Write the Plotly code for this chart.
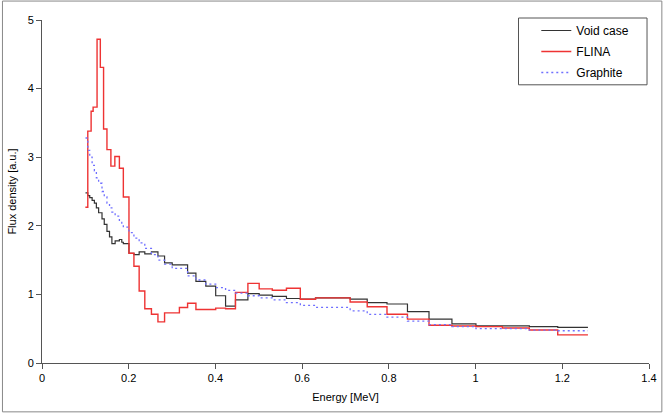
import plotly.graph_objects as go

# ---- data (bin lower edges in MeV, flux values) ----
flina_edges = [0.1000, 0.1056, 0.1133, 0.1179, 0.1270, 0.1345, 0.1420, 0.1498, 0.1589, 0.1680,
               0.1785, 0.1876, 0.2006, 0.2120, 0.2241, 0.2371, 0.2524, 0.2674, 0.2827, 0.3169,
               0.3358, 0.3550, 0.4006, 0.4234, 0.4462, 0.4749, 0.5009, 0.5312, 0.5638, 0.5958,
               0.6309, 0.7107, 0.7501, 0.7957, 0.8429, 0.8926, 0.9455, 1.0009, 1.0618, 1.1240,
               1.1895, 1.2592]
flina_vals = [2.27, 3.38, 3.67, 3.73, 4.72, 4.31, 3.41, 3.11, 2.87, 3.01,
              2.84, 2.42, 1.60, 1.41, 1.05, 0.79, 0.71, 0.60, 0.73, 0.81,
              0.87, 0.78, 0.80, 0.79, 1.03, 1.16, 1.08, 1.06, 1.09, 0.93,
              0.95, 0.89, 0.82, 0.71, 0.64, 0.55, 0.54, 0.53, 0.51, 0.48,
              0.41]

void_edges = [0.1003, 0.1056, 0.1101, 0.1156, 0.1208, 0.1254, 0.1306, 0.1384, 0.1436, 0.1498,
              0.1557, 0.1612, 0.1687, 0.1785, 0.1840, 0.1876, 0.2006, 0.2120, 0.2241, 0.2371,
              0.2524, 0.2674, 0.2827, 0.3003, 0.3358, 0.3550, 0.3778, 0.4006, 0.4234, 0.4462,
              0.4749, 0.5009, 0.5312, 0.5638, 0.5958, 0.6309, 0.7107, 0.7501, 0.7957, 0.8429,
              0.8926, 0.9455, 1.0009, 1.0618, 1.1240, 1.1895, 1.2592]
void_vals = [2.48, 2.44, 2.41, 2.37, 2.33, 2.26, 2.19, 2.10, 2.02, 1.92,
             1.84, 1.74, 1.78, 1.80, 1.76, 1.74, 1.60, 1.58, 1.62, 1.59,
             1.62, 1.56, 1.46, 1.43, 1.31, 1.19, 1.12, 0.98, 0.83, 0.92,
             1.01, 0.99, 0.97, 0.94, 0.93, 0.95, 0.93, 0.88, 0.86, 0.75,
             0.64, 0.57, 0.54, 0.54, 0.53, 0.52]

graphite_vals = [3.28, 3.10, 3.00, 2.88, 2.80, 2.70, 2.62, 2.50, 2.42, 2.33,
                 2.26, 2.20, 2.14, 2.06, 2.02, 1.98, 1.90, 1.82, 1.75, 1.67,
                 1.58, 1.50, 1.44, 1.38, 1.27, 1.21, 1.15, 1.10, 1.06, 1.02,
                 0.98, 0.95, 0.92, 0.88, 0.84, 0.81, 0.76, 0.71, 0.67, 0.61,
                 0.56, 0.53, 0.50, 0.50, 0.48, 0.47]

x_ticks = [0, 0.2, 0.4, 0.6, 0.8, 1.0, 1.2, 1.4]
x_labels = ["0", "0.2", "0.4", "0.6", "0.8", "1", "1.2", "1.4"]
y_ticks = [0, 1, 2, 3, 4, 5]


def steps(edges, vals):
    # hv step: each value held until the next edge, final edge closes the last bin
    return list(edges), list(vals) + [vals[-1]]


fig = go.Figure()
x, y = steps(void_edges, void_vals)
fig.add_trace(go.Scatter(x=x, y=y, mode="lines", line_shape="hv", name="Void case", legendgroup="a",
                         line=dict(color="#333333", width=1.2)))
x, y = steps(flina_edges, flina_vals)
fig.add_trace(go.Scatter(x=x, y=y, mode="lines", line_shape="hv", name="FLINA", legendgroup="b",
                         line=dict(color="#ee3333", width=1.4)))
x, y = steps(void_edges, graphite_vals)
fig.add_trace(go.Scatter(x=x, y=y, mode="lines", line_shape="hv", name="Graphite", legendgroup="c",
                         line=dict(color="#7070ff", width=1.3, dash="2px,3px")))

W, H = 669, 414
L, R, T, B = 41, 14, 20, 50
pw, ph = W - L - R, H - T - B


def px(xp):
    return (xp - L) / pw


def py(yp):
    return (H - B - yp) / ph


fig.update_layout(
    width=W, height=H,
    margin=dict(l=L, r=R, t=T, b=B, pad=0),
    paper_bgcolor="white", plot_bgcolor="white",
    font=dict(family="Liberation Sans, Arial, sans-serif", size=11, color="#000000"),
    showlegend=True,
    legend=dict(x=px(541), y=py(16), xanchor="left", yanchor="top",
                borderwidth=0, bgcolor="rgba(0,0,0,0)", font=dict(size=12), tracegroupgap=2),
    xaxis=dict(range=[0, 1.4], tickvals=x_ticks, ticktext=x_labels,
               showgrid=False, zeroline=False, showline=True, linecolor="#555555", linewidth=1,
               ticks="outside", ticklen=5, tickcolor="#555555",
               title=dict(text="Energy [MeV]", font=dict(size=11), standoff=10)),
    yaxis=dict(range=[0, 5], tickvals=y_ticks, showgrid=False, zeroline=False, showline=True,
               linecolor="#555555", linewidth=1, ticks="outside", ticklen=5, tickcolor="#555555",
               title=dict(text="Flux density [a.u.]", font=dict(size=11), standoff=8)),
    shapes=[
        dict(type="rect", xref="paper", yref="paper",
             x0=px(1), x1=px(W - 1), y0=py(H - 1), y1=py(1),
             line=dict(color="#888888", width=1), fillcolor="rgba(0,0,0,0)", layer="below"),
        dict(type="rect", xref="paper", yref="paper",
             x0=px(523), x1=px(653), y0=py(85), y1=py(18),
             line=dict(color="#555555", width=1), fillcolor="white", layer="above"),
    ],
)

fig.write_html("out.html")
